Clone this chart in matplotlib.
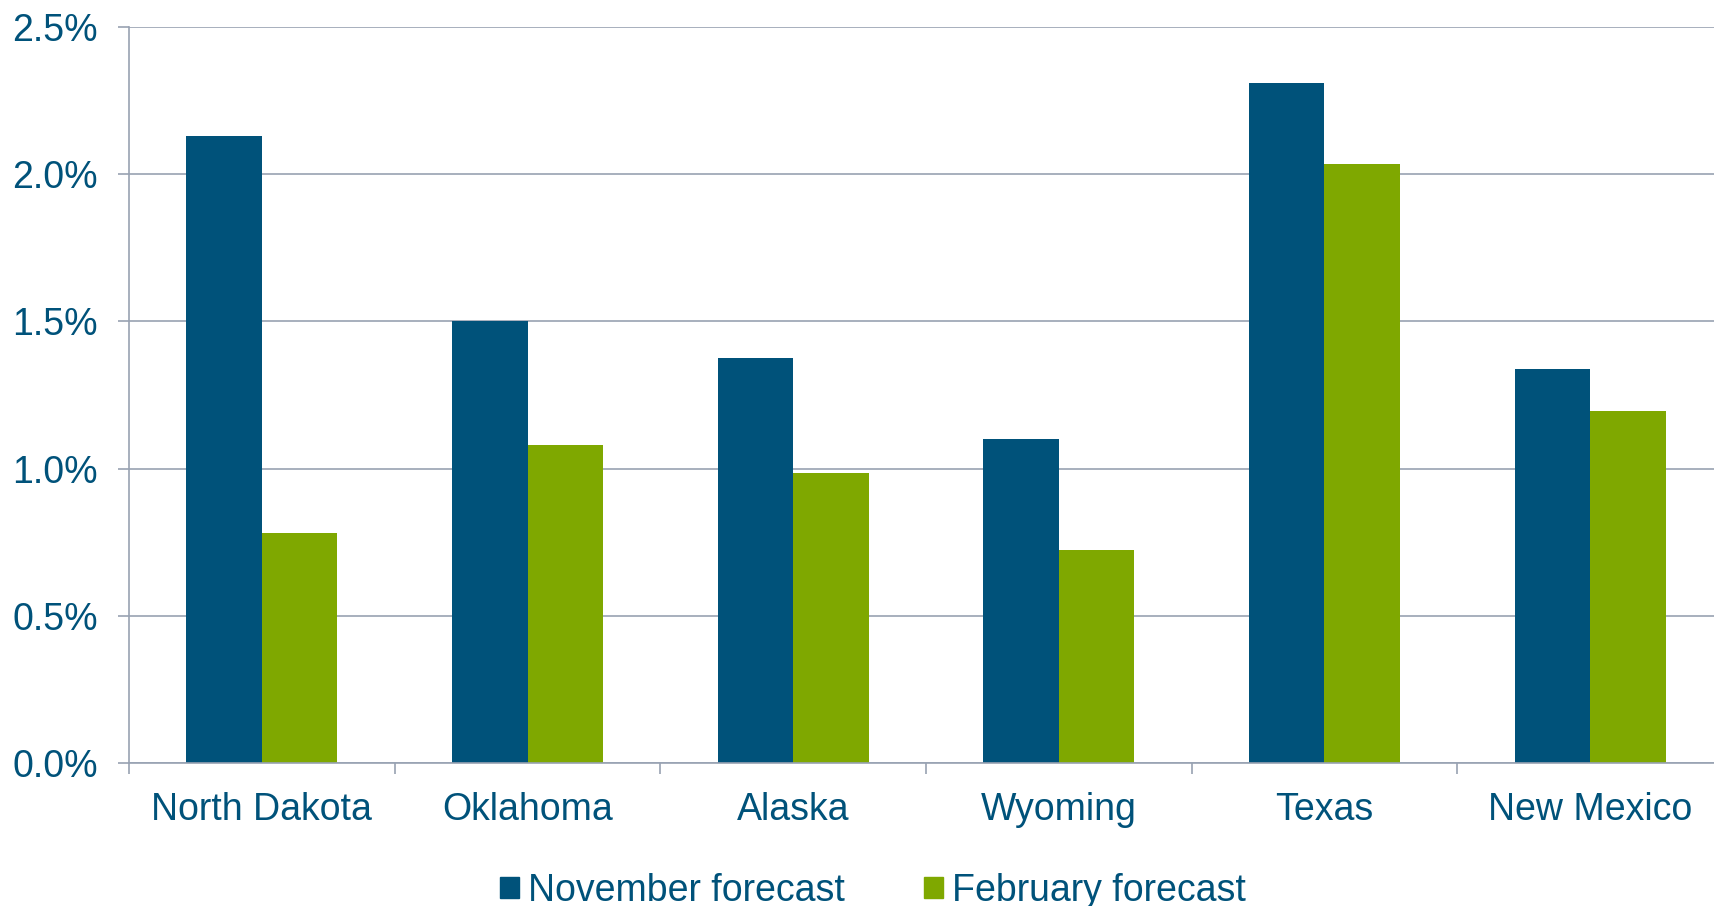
import matplotlib
matplotlib.use("Agg")
import matplotlib.pyplot as plt
import numpy as np
from matplotlib.ticker import FuncFormatter, MultipleLocator, FixedLocator
from matplotlib.patches import Patch

states = ["North Dakota", "Oklahoma", "Alaska", "Wyoming", "Texas", "New Mexico"]
november = [2.13, 1.50, 1.374, 1.10, 2.31, 1.337]
february = [0.78, 1.081, 0.984, 0.724, 2.036, 1.196]
series_names = ["November forecast", "February forecast"]

c_nov = "#00527A"
c_feb = "#7FA800"
c_text = "#00527A"
c_grid = "#98A2B2"

plt.rcParams['font.family'] = ['Liberation Sans', 'DejaVu Sans']

fig = plt.figure(figsize=(17.14, 9.06), dpi=100)
ax = fig.add_axes([129/1714, 1-763/906, (1723-129)/1714, (763-27)/906])

x = np.arange(len(states))
w = 0.284
ax.bar(x - w/2, november, width=w, color=c_nov, zorder=3)
ax.bar(x + w/2, february, width=w, color=c_feb, zorder=3)

ax.set_xlim(-0.5, len(states) - 0.5)
ax.set_ylim(0, 2.5)
ax.yaxis.set_major_locator(MultipleLocator(0.5))
ax.yaxis.set_major_formatter(FuncFormatter(lambda v, p: f"{v:.1f}%"))
ax.grid(axis='y', color=c_grid, linewidth=1.2, zorder=0)

ax.set_xticks(x)
ax.set_xticklabels(states)
ax.xaxis.set_minor_locator(FixedLocator(np.arange(-0.5, len(states), 1.0)))
ax.tick_params(axis='x', which='major', length=0, pad=21, labelsize=27, labelcolor=c_text)
ax.tick_params(axis='x', which='minor', length=8, width=1.2, color=c_grid)
ax.tick_params(axis='y', length=8, width=1.2, color=c_grid, labelsize=27, labelcolor=c_text, pad=14.5)

for s in ['top', 'right']:
    ax.spines[s].set_visible(False)
for s in ['left', 'bottom']:
    ax.spines[s].set_color(c_grid)
    ax.spines[s].set_linewidth(1.2)
ax.spines['bottom'].set_zorder(4)

handles = [Patch(color=c_nov), Patch(color=c_feb)]
leg = fig.legend(handles, series_names, loc='center', bbox_to_anchor=(873/1714, 1-891/906),
                 ncol=2, frameon=False, fontsize=27, handlelength=0.5, handleheight=0.5,
                 handletextpad=0.25, columnspacing=2.1, labelcolor=c_text)

fig.savefig("out.png", dpi=100)
